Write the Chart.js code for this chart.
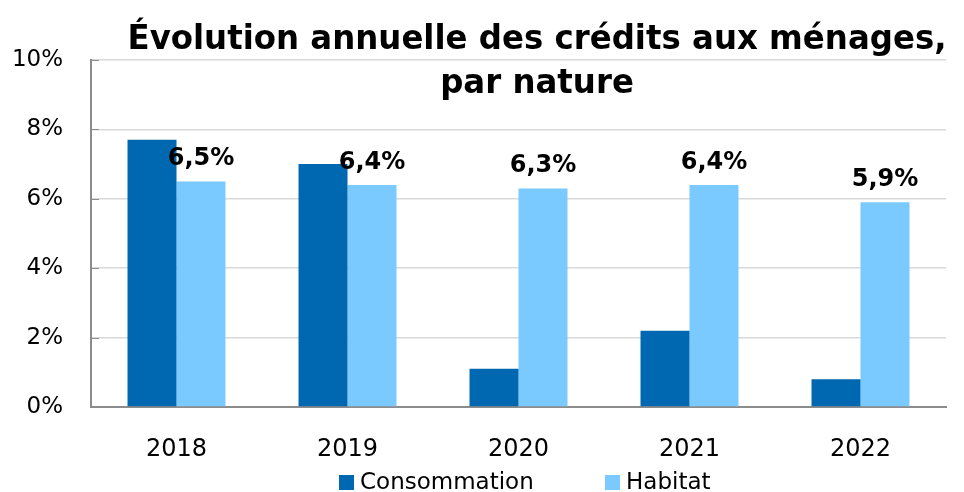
<!DOCTYPE html>
<html>
<head>
<meta charset="utf-8">
<script src="https://cdn.jsdelivr.net/npm/chart.js@4/dist/chart.umd.min.js"></script>
<style>
  html, body { margin: 0; padding: 0; background: #fff; }
  canvas { display: block; }
</style>
</head>
<body>
<canvas id="chart" width="964" height="492"></canvas>
<script>
const years = ["2018", "2019", "2020", "2021", "2022"];
const consommation = [7.7, 7.0, 1.1, 2.2, 0.8];
const habitat = [6.5, 6.4, 6.3, 6.4, 5.9];
const titleLines = ["Évolution annuelle des crédits aux ménages,", "par nature"];
const seriesNames = ["Consommation", "Habitat"];
const seriesColors = ["#0067B1", "#7BCAFF"];

const FONT = "'DejaVu Sans', Verdana, sans-serif";

// titre (chevauche le haut du graphique)
const titlePlugin = {
  id: "titleLines",
  afterDraw(chart) {
    const ctx = chart.ctx;
    ctx.save();
    ctx.fillStyle = "#000";
    ctx.textAlign = "center";
    ctx.textBaseline = "alphabetic";
    ctx.font = "bold 33px " + FONT;
    const w = ctx.measureText(titleLines[0]).width;
    const sx = Math.min(1, 819 / w);
    const cx = 537;
    [49, 93].forEach((y, i) => {
      ctx.save();
      ctx.translate(cx, y);
      ctx.scale(sx, 1);
      ctx.fillText(titleLines[i], 0, 0);
      ctx.restore();
    });
    ctx.restore();
  }
};

// étiquettes de valeur sur Habitat
const labelPlugin = {
  id: "valueLabels",
  afterDatasetsDraw(chart) {
    const ctx = chart.ctx;
    const meta = chart.getDatasetMeta(1);
    ctx.save();
    ctx.fillStyle = "#000";
    ctx.font = "bold 24px " + FONT;
    ctx.textAlign = "center";
    ctx.textBaseline = "alphabetic";
    meta.data.forEach((bar, i) => {
      const txt = habitat[i].toFixed(1).replace(".", ",") + "%";
      ctx.fillText(txt, bar.x, bar.y - 16);
    });
    ctx.restore();
  }
};

// petites graduations vers l'intérieur
const tickPlugin = {
  id: "innerTicks",
  afterDraw(chart) {
    const ctx = chart.ctx;
    const y = chart.scales.y;
    ctx.save();
    ctx.strokeStyle = "#8c8c8c";
    ctx.lineWidth = 1;
    y.ticks.forEach(t => {
      const py = Math.round(y.getPixelForValue(t.value)) + 0.5;
      ctx.beginPath();
      ctx.moveTo(chart.chartArea.left, py);
      ctx.lineTo(chart.chartArea.left + 8, py);
      ctx.stroke();
    });
    ctx.restore();
  }
};

// légende
const legendPlugin = {
  id: "customLegend",
  afterDraw(chart) {
    const ctx = chart.ctx;
    const xs = [339, 605];
    ctx.save();
    ctx.font = "23px " + FONT;
    ctx.textBaseline = "alphabetic";
    ctx.textAlign = "left";
    chart.data.datasets.forEach((ds, i) => {
      ctx.fillStyle = ds.backgroundColor;
      ctx.fillRect(xs[i], 475, 15, 15);
      ctx.fillStyle = "#000";
      ctx.fillText(ds.label, xs[i] + 21, 489);
    });
    ctx.restore();
  }
};

new Chart(document.getElementById("chart"), {
  type: "bar",
  data: {
    labels: years,
    datasets: [
      { label: seriesNames[0], data: consommation, backgroundColor: seriesColors[0] },
      { label: seriesNames[1], data: habitat, backgroundColor: seriesColors[1] }
    ]
  },
  options: {
    responsive: false,
    animation: false,
    layout: { padding: { top: 60, right: 18, bottom: 0, left: 0 } },
    datasets: { bar: { categoryPercentage: 0.573, barPercentage: 1 } },
    plugins: {
      legend: { display: false },
      title: { display: false },
      tooltip: { enabled: false }
    },
    scales: {
      x: {
        grid: { display: false },
        border: { display: true, color: "#8c8c8c", width: 2 },
        ticks: { color: "#000", font: { family: FONT, size: 24 }, padding: 20 },
        afterFit(scale) { scale.height = 85; }
      },
      y: {
        min: 0,
        max: 10,
        ticks: {
          stepSize: 2,
          color: "#000",
          font: { family: FONT, size: 23 },
          padding: 28,
          callback: v => v + "%"
        },
        grid: { color: "#d9d9d9", lineWidth: 1.5, drawTicks: false },
        border: { display: true, color: "#8c8c8c", width: 2 },
        afterFit(scale) { scale.width = 91; }
      }
    }
  },
  plugins: [labelPlugin, tickPlugin, titlePlugin, legendPlugin]
});
</script>
</body>
</html>
